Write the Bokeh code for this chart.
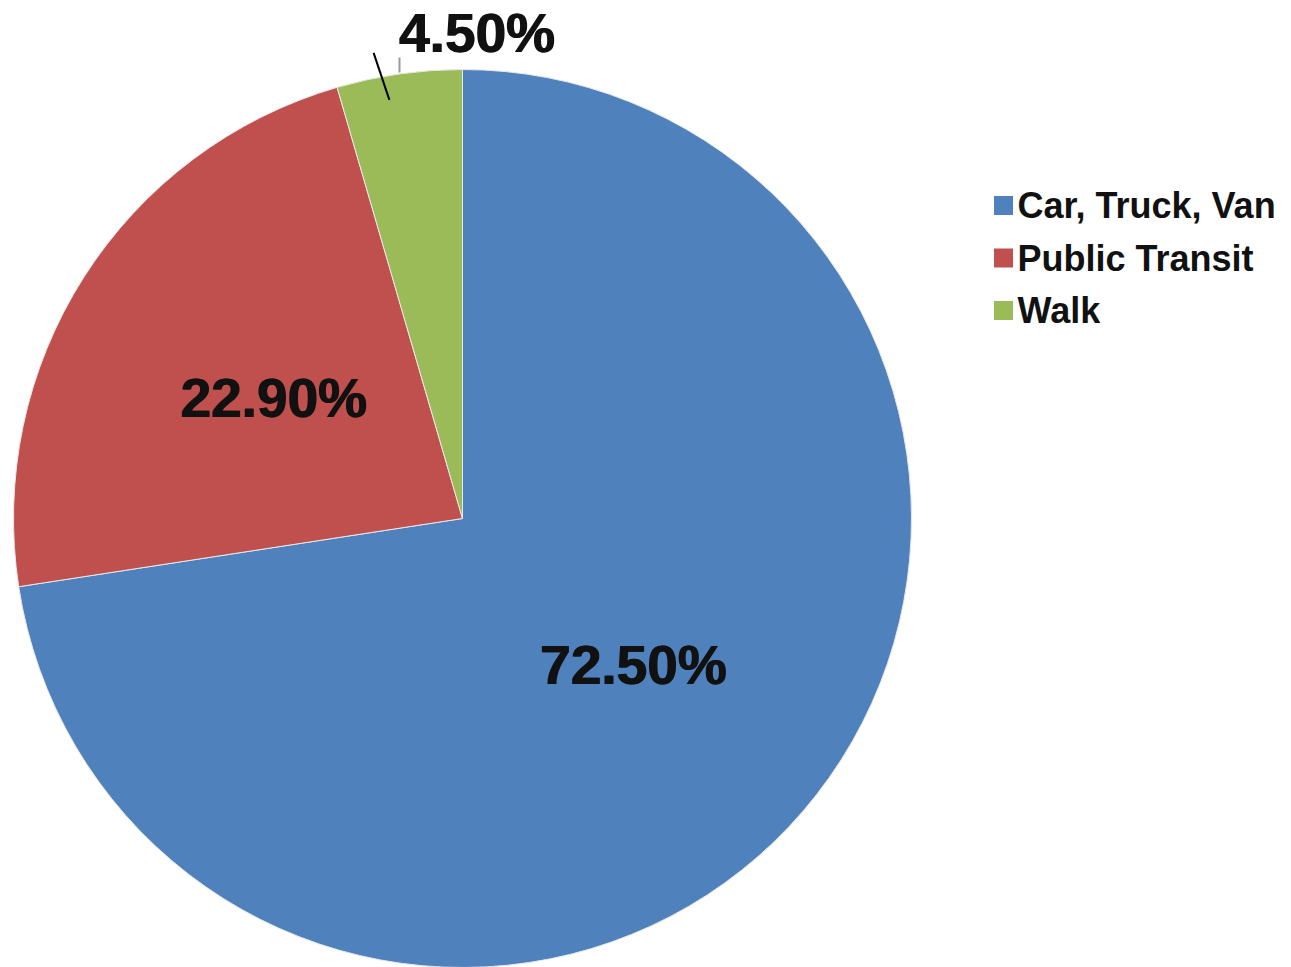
import numpy as np
from bokeh.plotting import figure
from bokeh.models import Range1d, ColumnDataSource
from bokeh.core.properties import value
from bokeh.embed import file_html
from bokeh.resources import INLINE

# ---- data ----
categories = ["Car, Truck, Van", "Public Transit", "Walk"]
shares = [72.5, 22.9, 4.5]
labels = ["72.50%", "22.90%", "4.50%"]
colors = ["#4F81BD", "#C0504D", "#9BBB59"]

W, H = 1291, 967
p = figure(width=W, height=H, output_backend="svg", toolbar_location=None,
           x_range=Range1d(0, W), y_range=Range1d(0, H), min_border=0)
p.axis.visible = False
p.grid.visible = False
p.outline_line_color = None
p.background_fill_color = "white"
p.border_fill_color = "white"

# pie geometry (picture pixel -> data: x = px, y = H - py)
cx, cy, r = 462, H - 518, 449

vals = np.array(shares, dtype=float)
frac = vals / vals.sum()
ends = np.cumsum(frac) * 2 * np.pi
starts = np.concatenate([[0.0], ends[:-1]])
start_ang = np.pi / 2 - starts
end_ang = np.pi / 2 - ends
mid_ang = (start_ang + end_ang) / 2

src = ColumnDataSource(dict(start=start_ang, end=end_ang, color=colors,
                            cat=categories))
p.wedge(x=cx, y=cy, radius=r, start_angle="start", end_angle="end",
        direction="clock", fill_color="color", line_color="#e8e8e8",
        line_width=1, source=src)

# labels: inside for large slices, outside for the small one
lx, ly = [], []
for i, a in enumerate(mid_ang):
    if frac[i] > 0.1:
        lx.append(cx + 0.5 * r * np.cos(a))
        ly.append(cy + 0.5 * r * np.sin(a))
    else:
        lx.append(cx + 14)
        ly.append(cy + 486)
for dx in (0, 1.2):
    p.text(x=lx, y=ly, text=labels, text_font=value("Liberation Sans"),
           text_font_style="bold", text_font_size="55px", text_color="#111111",
           text_align="center", text_baseline="middle", x_offset=dx)

# leader line for small slice
a_lead = mid_ang[2] + np.deg2rad(1.8)
p.segment(x0=[cx + 425 * np.cos(a_lead)], y0=[cy + 425 * np.sin(a_lead)],
          x1=[cx + 474 * np.cos(a_lead + np.deg2rad(0.9))],
          y1=[cy + 474 * np.sin(a_lead + np.deg2rad(0.9))],
          line_color="black", line_width=2)
p.segment(x0=[399], y0=[H - 57], x1=[399], y1=[H - 72],
          line_color="#9a9a9a", line_width=2)

# legend (manual)
leg_x = 1003
leg_y0 = H - 205
step = 52.5
ys = [leg_y0 - i * step for i in range(len(categories))]
p.rect(x=[leg_x] * len(categories), y=ys, width=19, height=19,
       fill_color=colors, line_color=None)
p.text(x=[leg_x + 14] * len(categories), y=ys, text=categories,
       text_font=value("Liberation Sans"), text_font_style="bold",
       text_font_size="36px", text_color="#111111",
       text_align="left", text_baseline="middle")

open("out.html", "w").write(file_html(p, INLINE))
